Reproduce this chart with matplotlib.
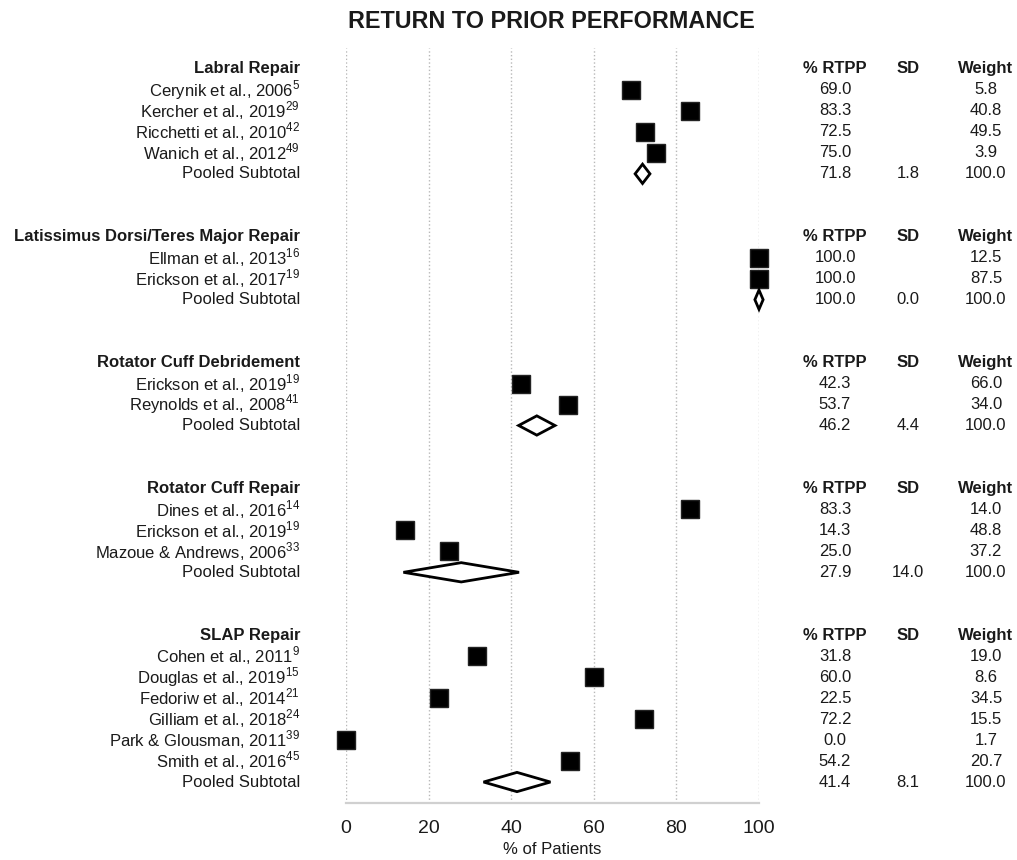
import matplotlib
matplotlib.use("Agg")
import matplotlib.pyplot as plt
from matplotlib.transforms import blended_transform_factory

plt.rcParams['font.family'] = ['Liberation Sans', 'DejaVu Sans']
plt.rcParams['mathtext.fontset'] = 'custom'
plt.rcParams['mathtext.rm'] = 'Liberation Sans'

# donnees
group_names = ["Labral Repair", "Latissimus Dorsi/Teres Major Repair",
               "Rotator Cuff Debridement", "Rotator Cuff Repair", "SLAP Repair"]
study_labels = [
    ["Cerynik et al., 2006", "Kercher et al., 2019", "Ricchetti et al., 2010", "Wanich et al., 2012"],
    ["Ellman et al., 2013", "Erickson et al., 2017"],
    ["Erickson et al., 2019", "Reynolds et al., 2008"],
    ["Dines et al., 2016", "Erickson et al., 2019", "Mazoue & Andrews, 2006"],
    ["Cohen et al., 2011", "Douglas et al., 2019", "Fedoriw et al., 2014",
     "Gilliam et al., 2018", "Park & Glousman, 2011", "Smith et al., 2016"],
]
study_refs = [["5", "29", "42", "49"], ["16", "19"], ["19", "41"],
              ["14", "19", "33"], ["9", "15", "21", "24", "39", "45"]]
study_rtpp = [[69.0, 83.3, 72.5, 75.0], [100.0, 100.0], [42.3, 53.7],
              [83.3, 14.3, 25.0], [31.8, 60.0, 22.5, 72.2, 0.0, 54.2]]
study_weight = [[5.8, 40.8, 49.5, 3.9], [12.5, 87.5], [66.0, 34.0],
                [14.0, 48.8, 37.2], [19.0, 8.6, 34.5, 15.5, 1.7, 20.7]]
pooled_rtpp = [71.8, 100.0, 46.2, 27.9, 41.4]
pooled_sd = [1.8, 0.0, 4.4, 14.0, 8.1]
pooled_weight = [100.0, 100.0, 100.0, 100.0, 100.0]
x_ticks = [0, 20, 40, 60, 80, 100]

TXT = '#1a1a1a'
FS = 12
fig = plt.figure(figsize=(10.17, 8.6), dpi=100)
ax = fig.add_axes([346 / 1017, 1 - 803 / 860, 413 / 1017, 755 / 860])
ax.set_xlim(0, 100)
ax.set_ylim(34, -2)

lab = blended_transform_factory(fig.transFigure, ax.transData)
col_x = [835 / 1017, 908 / 1017, 986 / 1017]

row = -1
for g, name in enumerate(group_names):
    # ligne d'en-tete du groupe
    ax.text(300 / 1017, row, name, transform=lab, ha='right', va='center',
            fontsize=FS, fontweight='bold', color=TXT)
    for cx, h in zip(col_x, ["% RTPP", "SD", "Weight"]):
        ax.text(cx, row, h, transform=lab, ha='center', va='center',
                fontsize=FS, fontweight='bold', color=TXT)
    row += 1
    for lbl, ref, v, w in zip(study_labels[g], study_refs[g], study_rtpp[g], study_weight[g]):
        ax.plot(v, row, marker='s', ms=12.3, color='black', mec='#222222',
                ls='none', clip_on=False, zorder=3)
        ax.text(300 / 1017, row, lbl + r"$^{\mathregular{" + ref + "}}$", transform=lab,
                ha='right', va='center', fontsize=FS, color=TXT)
        ax.text(col_x[0], row, f"{v:.1f}", transform=lab, ha='center', va='center',
                fontsize=FS, color=TXT)
        ax.text(col_x[2], row, f"{w:.1f}", transform=lab, ha='center', va='center',
                fontsize=FS, color=TXT)
        row += 1
    # losange du sous-total
    m, sd = pooled_rtpp[g], max(pooled_sd[g], 1.0)
    ax.fill([m - sd, m, m + sd, m], [row, row - 0.46, row, row + 0.46],
            facecolor='white', edgecolor='black', lw=2, clip_on=False, zorder=3)
    ax.text(300 / 1017, row, "Pooled Subtotal", transform=lab, ha='right', va='center',
            fontsize=FS, color=TXT)
    for cx, val in zip(col_x, [pooled_rtpp[g], pooled_sd[g], pooled_weight[g]]):
        ax.text(cx, row, f"{val:.1f}", transform=lab, ha='center', va='center',
                fontsize=FS, color=TXT)
    row += 3

ax.set_xticks(x_ticks)
ax.set_yticks([])
ax.grid(axis='x', linestyle=':', color='#b8b8b8', lw=1)
ax.set_axisbelow(True)
for s in ['top', 'left', 'right']:
    ax.spines[s].set_visible(False)
ax.spines['bottom'].set_color('#d0d0d0')
ax.spines['bottom'].set_linewidth(1.6)
ax.tick_params(axis='x', length=0, pad=12, labelsize=14, labelcolor=TXT)
ax.set_xlabel('% of Patients', fontsize=12, color=TXT, labelpad=4)

fig.text(551 / 1017, 1 - 22 / 860, "RETURN TO PRIOR PERFORMANCE", ha='center', va='center',
         fontsize=16.8, fontweight='bold', color=TXT)

fig.savefig('out.png', dpi=100, facecolor='white')
